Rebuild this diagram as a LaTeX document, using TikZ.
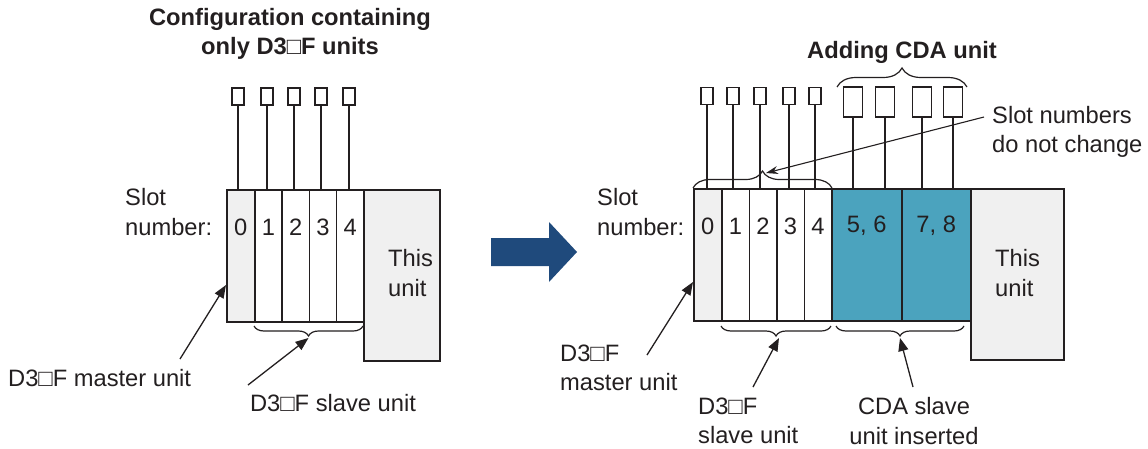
\documentclass[tikz,border=0pt]{standalone}
\usepackage{fontspec}
\setmainfont{Liberation Sans}
\usetikzlibrary{decorations.pathreplacing,arrows.meta}
\definecolor{lc}{HTML}{231F20}
\definecolor{fillg}{HTML}{F0F0F0}
\definecolor{cdacol}{HTML}{4BA3BE}
\definecolor{arrowblue}{HTML}{1F4A7C}
\newcommand\dfont{\fontsize{23.7}{29.5}\selectfont}
\begin{document}
\begin{tikzpicture}[x=1pt,y=-1pt,
  every node/.style={text=lc, font=\dfont},
  unitbox/.style={draw=lc, line width=1.5pt, inner sep=0pt, anchor=north west, minimum height=132pt},
  smallbox/.style={draw=lc, line width=1.3pt, fill=white, inner sep=0pt, minimum width=12pt, minimum height=17pt},
  bigbox/.style={draw=lc, line width=1.3pt, fill=white, inner sep=0pt, minimum width=19pt, minimum height=30pt},
  wire/.style={draw=lc, line width=1.2pt},
  brc/.style={draw=lc, line width=1.2pt, decorate, decoration={brace, amplitude=10pt}},
  arr/.style={draw=lc, line width=1.3pt, -{Triangle[length=13pt,width=10pt]}},
  thinarr/.style={draw=lc, line width=1.1pt, -{Stealth[length=12pt,width=8pt]}},
  lbl/.style={align=left, inner sep=0pt, anchor=west},
  ttl/.style={align=center, inner sep=0pt, font=\dfont\bfseries}]
\useasboundingbox (0,0) rectangle (1148,448);

% ---------------- left configuration ----------------
\node[ttl] (tL) at (290,34) {Configuration containing\\only D3□F units};

\node[unitbox, fill=fillg, minimum width=28pt] (L0) at (226,189) {};
\node[unitbox, fill=white, minimum width=27.25pt] (L1) at (254,189) {};
\node[unitbox, fill=white, minimum width=27.25pt] (L2) at (281.25,189) {};
\node[unitbox, fill=white, minimum width=27.25pt] (L3) at (308.5,189) {};
\node[unitbox, fill=white, minimum width=27.25pt] (L4) at (335.75,189) {};
\node[unitbox, fill=fillg, minimum width=76pt, minimum height=171pt] (LT) at (363,189) {};

\foreach \i/\x in {0/238,1/267,2/294,3/321,4/349}{
  \node[smallbox] (Lb\i) at (\x,96.5) {};
  \draw[wire] (Lb\i.south) -- (Lb\i.south |- L\i.north);
  \node (dL\i) at (L\i.north |- 0,227) {\i};
}

\node[lbl] (lLsn) at (125,212) {Slot\\number:};
\node[lbl] (lLT) at (388,273) {This\\unit};

\node[lbl] (lLm) at (8,378) {D3□F master unit};
\coordinate (sLm) at (180,359);
\coordinate (tLm) at (226,285);
\draw[arr] (sLm) -- (tLm);

\draw[brc] (363,326) -- (254,326);
\node (lLs) at (333,403) {D3□F slave unit};
\coordinate (sLs) at (248,385);
\coordinate (tLs) at (308.5,338);
\draw[arr] (sLs) -- (tLs);

% ---------------- big arrow ----------------
\fill[arrowblue] (491,238) -- (549,238) -- (549,222) -- (577,252) -- (549,282) -- (549,266) -- (491,266) -- cycle;

% ---------------- right configuration ----------------
\node[ttl] (tR) at (902,52) {Adding CDA unit};

\node[unitbox, fill=fillg, minimum width=28pt] (R0) at (693,188) {};
\node[unitbox, fill=white, minimum width=27.5pt] (R1) at (721,188) {};
\node[unitbox, fill=white, minimum width=27.5pt] (R2) at (748.5,188) {};
\node[unitbox, fill=white, minimum width=27.5pt] (R3) at (776,188) {};
\node[unitbox, fill=white, minimum width=27.5pt] (R4) at (803.5,188) {};
\node[unitbox, fill=cdacol, minimum width=70pt] (C1) at (831,188) {};
\node[unitbox, fill=cdacol, minimum width=69pt] (C2) at (901,188) {};
\node[unitbox, fill=fillg, minimum width=93pt, minimum height=171pt] (RT) at (970,188) {};

\foreach \i/\x in {0/707,1/733,2/760,3/789,4/815}{
  \node[smallbox] (Rb\i) at (\x,96) {};
  \draw[wire] (Rb\i.south) -- (Rb\i.south |- R\i.north);
  \node (dR\i) at (R\i.north |- 0,226) {\i};
}
\node[bigbox] (Cb1) at (853,102) {};
\node[bigbox] (Cb2) at (885,102) {};
\node[bigbox] (Cb3) at (922,102) {};
\node[bigbox] (Cb4) at (953,102) {};
\draw[wire] (Cb1.south) -- (Cb1.south |- C1.north);
\draw[wire] (Cb2.south) -- (Cb2.south |- C1.north);
\draw[wire] (Cb3.south) -- (Cb3.south |- C2.north);
\draw[wire] (Cb4.south) -- (Cb4.south |- C2.north);
\node (dC1) at (C1.north |- 0,226) {5, 6};
\node (dC2) at (C2.north |- 0,226) {7, 8};

\draw[brc, decoration={brace, amplitude=19pt}] (837,87) -- (967,87);
\draw[brc, decoration={brace, amplitude=17pt}] (693,188) -- (832,188);

\node[lbl] (lRn) at (992,132) {Slot numbers\\do not change};
\coordinate (sRn) at (984,117);
\coordinate (tRn) at (766,173);
\draw[thinarr] (sRn) -- (tRn);

\node[lbl] (lRsn) at (597,212) {Slot\\number:};
\node[lbl] (lRT) at (995,273) {This\\unit};

\node[lbl] (lRm) at (560,368) {D3□F\\master unit};
\coordinate (sRm) at (647,355);
\coordinate (tRm) at (693,282);
\draw[arr] (sRm) -- (tRm);

\draw[brc] (831,326) -- (721,326);
\draw[brc] (964,326) -- (836,326);

\node[lbl] (lRs) at (698,421) {D3□F\\slave unit};
\coordinate (sRs) at (753,387);
\coordinate (tRs) at (779,338);
\draw[arr] (sRs) -- (tRs);

\node[align=center, inner sep=0pt] (lRc) at (914,421) {CDA slave\\unit inserted};
\coordinate (sRc) at (913,387);
\coordinate (tRc) at (900,338);
\draw[arr] (sRc) -- (tRc);
\end{tikzpicture}
\end{document}
